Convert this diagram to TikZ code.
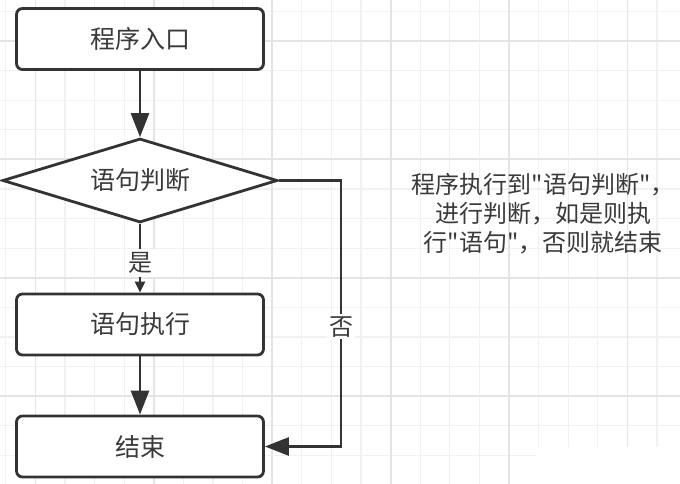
\documentclass[tikz,border=0pt]{standalone}
\usepackage{fontspec}
\setmainfont{Noto Sans CJK SC}[Ligatures=TeXOff]
\usepackage{tikz}
\usetikzlibrary{arrows.meta,shapes.geometric}

\definecolor{linegray}{HTML}{333333}
\definecolor{textgray}{HTML}{3A3A3A}
\definecolor{gridminor}{HTML}{F1F1F1}
\definecolor{gridmajor}{HTML}{E4E4E4}

\begin{document}
\begin{tikzpicture}[x=1pt,y=-1pt,
  every node/.style={text=textgray, font=\fontsize{24}{29}\selectfont},
  box/.style={draw=linegray, fill=white, line width=2.8pt, rounded corners=6pt,
    minimum width=247pt, minimum height=61pt, inner sep=0pt, font=\fontsize{25}{29}\selectfont},
  judgebox/.style={diamond, aspect=3.2, draw=linegray, fill=white, line width=2.8pt,
    minimum width=275pt, minimum height=84pt, inner sep=0pt, font=\fontsize{25}{29}\selectfont},
  flow/.style={draw=linegray, line width=2.8pt, -{Triangle[length=24pt,width=18pt]}},
  flowsmall/.style={draw=linegray, line width=2.8pt, -{Triangle[length=11pt,width=10pt]}},
  tag/.style={fill=white, inner sep=3pt}]

\useasboundingbox (0,0) rectangle (680,484);

% Grid
\foreach \i in {0,...,22}
{
\draw[gridminor, line width=1.3pt] ({5.8+29.6*\i},0) -- ({5.8+29.6*\i},484);
}
\foreach \i in {0,...,15}
{
\draw[gridminor, line width=1.3pt] (0,{11.4+29.6*\i}) -- (680,{11.4+29.6*\i});
}
\foreach \i in {0,...,5}
{
\draw[gridmajor, line width=1.8pt] ({35.4+118.4*\i},0) -- ({35.4+118.4*\i},484);
}
\foreach \i in {0,...,3}
{
\draw[gridmajor, line width=1.8pt] (0,{41+118.4*\i}) -- (680,{41+118.4*\i});
}
\fill[white] (536,447) rectangle (680,484);

% Flow chart
\node[box] (entry) at (140,39) {程序入口};
\node[judgebox] (judge) at (140,180.5) {语句判断};
\node[box] (exec) at (140,324.5) {语句执行};
\node[box] (finish) at (140,446.5) {结束};
\coordinate (noturn) at (341,180.5);

\draw[flow] (entry) -- (judge);
\draw[flowsmall] (judge) -- node[tag, pos=0.57] {是} (exec);
\draw[flow] (exec) -- (finish);
\draw[flow] (judge.east) -- (noturn) |- node[tag, pos=0.275, inner sep=2pt] {否} (finish.east);

% Note
\node[align=center] (note) at (543,214) {程序执行到"语句判断"，\\进行判断，如是则执\\行"语句"，否则就结束};

\end{tikzpicture}
\end{document}
